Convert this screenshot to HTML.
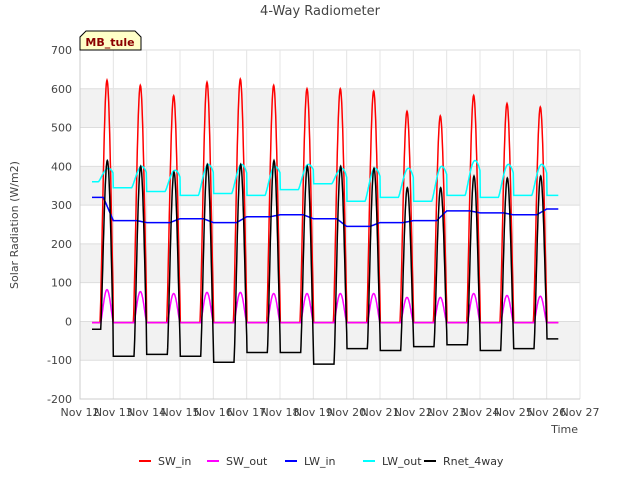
<!DOCTYPE html>
<html><head><meta charset="utf-8"><style>
body{margin:0;background:#fff;font-family:"Liberation Sans","DejaVu Sans",sans-serif;}
svg text{font-family:"DejaVu Sans","Liberation Sans",sans-serif;}
</style></head><body>
<svg id="chart" width="640" height="480" viewBox="0 0 640 480">
<g id="bands"></g>
<g id="grid"></g>
<g id="series"></g>
<g id="axes"></g>
<text x="320" y="15" text-anchor="middle" font-size="13" fill="#444">4-Way Radiometer</text>
<text x="18" y="225" text-anchor="middle" font-size="11" fill="#444" transform="rotate(-90 18 225)">Solar Radiation (W/m2)</text>
<text x="578" y="433" text-anchor="end" font-size="11" fill="#444">Time</text>
<g>
<path d="M80,50 L80,37 L86,31 L135,31 L141,37 L141,50 Z" fill="#ffffc8" stroke="#000" stroke-width="1"/>
<text x="110" y="46" text-anchor="middle" font-size="11" font-weight="bold" fill="#8b0000">MB_tule</text>
</g>
<g id="legend"></g>
</svg>
<script>
const yTicks=[-200,-100,0,100,200,300,400,500,600,700];
const xTickLabels=["Nov 12","Nov 13","Nov 14","Nov 15","Nov 16","Nov 17","Nov 18","Nov 19","Nov 20","Nov 21","Nov 22","Nov 23","Nov 24","Nov 25","Nov 26","Nov 27"];
const swInPeak=[625,612,585,620,628,612,603,603,597,545,533,586,565,556];
const swOutPeak=[85,80,75,78,78,75,75,75,75,65,65,75,70,68];
const lwInLevel=[320,260,255,265,255,270,275,265,245,255,260,285,280,275,290];
const lwOutNight=[360,345,335,325,330,325,340,355,310,320,310,325,320,325,325];
const lwOutPeak=[395,400,390,405,405,400,405,395,395,395,400,415,405,405];
const rnetPeak=[415,400,385,405,405,415,400,400,395,345,345,375,370,375];
const rnetNight=[-20,-90,-85,-90,-105,-80,-80,-110,-70,-75,-65,-60,-75,-70,-45];
const tStart=0.36, tEnd=14.35;

const X0=80,X1=580,Y0=50,Y1=399;
const x=d=>X0+(d/15)*(X1-X0);
const y=v=>Y1-(v+200)/900*(Y1-Y0);
const NS="http://www.w3.org/2000/svg";
function mk(tag,attrs,parent){const e=document.createElementNS(NS,tag);for(const k in attrs)e.setAttribute(k,attrs[k]);parent.appendChild(e);return e;}
const bands=document.getElementById('bands'),grid=document.getElementById('grid'),axes=document.getElementById('axes'),series=document.getElementById('series'),legend=document.getElementById('legend');
mk('rect',{x:X0,y:Y0,width:X1-X0,height:Y1-Y0,fill:'#fff'},bands);
for(let i=0;i<yTicks.length-1;i++){
  if(i%2===1){const r=mk('rect',{x:X0,y:y(yTicks[i+1]),width:X1-X0,height:y(yTicks[i])-y(yTicks[i+1]),fill:'#f2f2f2'},bands);
  
  }
}
yTicks.forEach(v=>{
  const l=mk('line',{x1:X0,x2:X1,y1:y(v),y2:y(v),stroke:'#ddd','stroke-width':1},grid);
  
  
  const t=mk('text',{x:X0-8,y:y(v)+4,'text-anchor':'end','font-size':11,fill:'#444'},axes);
  t.textContent=v;
  
  
});
xTickLabels.forEach((s,i)=>{
  const l=mk('line',{x1:x(i),x2:x(i),y1:Y0,y2:Y1,stroke:'#e4e4e4','stroke-width':1},grid);
  
  
  const t=mk('text',{x:x(i),y:Y1+17,'text-anchor':'middle','font-size':11,fill:'#444'},axes);
  t.textContent=s;
  
  
});
const ax=mk('path',{d:`M${X0},${Y0}V${Y1}H${X1}`,fill:'none',stroke:'#ccc'},axes);



function shape(t,w0,w1,pk){const d=Math.floor(t),f=t-d;if(f<w0||f>w1)return 0;const u=f<pk?(f-w0)/(pk-w0):(w1-f)/(w1-pk);return Math.pow(Math.sin(u*Math.PI/2),1.3);}
function pts(fn){const a=[];for(let t=tStart;t<=tEnd+1e-9;t+=0.01){const v=fn(t);a.push(x(t).toFixed(1)+','+y(v).toFixed(1));}return a.join(' ');}
const di=t=>Math.min(Math.floor(t),13);
const lin=(arr,t)=>{const i=Math.min(Math.floor(t),arr.length-1),j=Math.min(i+1,arr.length-1),f=t-Math.floor(t);const u=Math.max(0,Math.min(1,(f-0.7)/0.3));return arr[i]+(arr[j]-arr[i])*u;};
const defs=[
 ['SW_in','#ff0000',t=>-3+swInPeak[di(t)]*shape(t,0.6,1.02,0.81)],
 ['SW_out','#ff00ff',t=>-3+swOutPeak[di(t)]*shape(t,0.62,1.0,0.81)],
 ['LW_in','#0000ff',t=>lin(lwInLevel,t)],
 ['LW_out','#00ffff',t=>{const n=lin(lwOutNight,t);return n+(lwOutPeak[di(t)]-n)*shape(t,0.55,1.2,0.85);}],
 ['Rnet_4way','#000000',t=>{const n=lin(rnetNight,t);return n+(rnetPeak[di(t)]-n)*shape(t,0.62,1.02,0.82);}]
];
defs.forEach(([name,col,fn])=>{
  const p=mk('polyline',{points:pts(fn),fill:'none',stroke:col,'stroke-width':1.5},series);
  
  
});
const lx=[139,207,285,363,424];
defs.forEach(([name,col],i)=>{
  const g=mk('g',{},legend);
  
  
  mk('line',{x1:lx[i],x2:lx[i]+12,y1:461,y2:461,stroke:col,'stroke-width':2},g);
  const t=mk('text',{x:lx[i]+19,y:465,'font-size':11,fill:'#333'},g);
  t.textContent=name;
});
</script>
</body></html>
